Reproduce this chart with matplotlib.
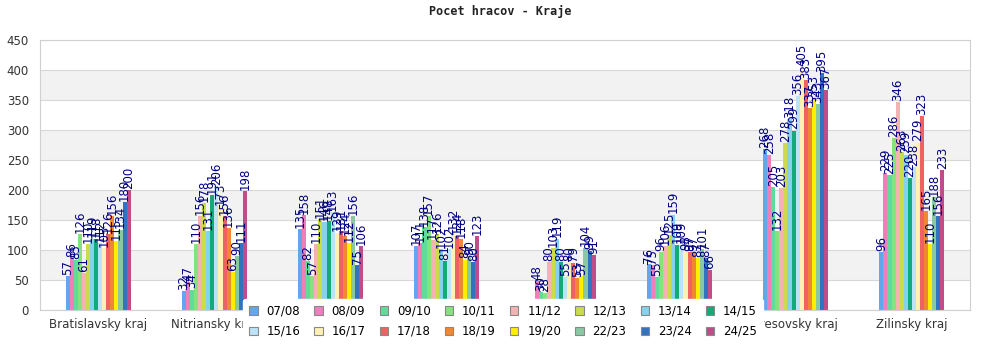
import matplotlib
matplotlib.use("Agg")
import matplotlib.pyplot as plt
import numpy as np
from matplotlib.patches import Patch

seasons = ['07/08', '08/09', '09/10', '10/11', '11/12', '12/13', '13/14', '14/15',
           '15/16', '16/17', '17/18', '18/19', '19/20', '22/23', '23/24', '24/25']
regions = ['Bratislavsky kraj', 'Nitriansky kraj', 'Trnavsky kraj', 'Trenciansky kraj',
           'Banskobystricky kraj', 'Kosicky kraj', 'Presovsky kraj', 'Zilinsky kraj']

# values per region, one per season
bratislavsky = [57, 86, 83, 126, 61, 110, 119, 118, 112, 103, 126, 156, 115, 134, 180, 200]
nitriansky = [32, 47, 34, 110, 156, 178, 131, 191, 206, 173, 156, 136, 63, 90, 111, 198]
trnavsky = [135, 158, 82, 57, 110, 151, 146, 148, 163, 129, 131, 124, 112, 156, 75, 106]
trenciansky = [107, 111, 138, 157, 117, 126, 102, 81, 102, 132, 124, 118, 84, 90, 80, 123]
banskobystricky = [1, 48, 30, 28, 80, 103, 119, 80, 55, 80, 79, 53, 57, 104, 99, 91]
kosicky = [76, 75, 55, 96, 106, 125, 159, 109, 109, 98, 97, 97, 87, 101, 87, 66]
presovsky = [268, 258, 205, 132, 203, 278, 318, 299, 356, 405, 383, 337, 353, 343, 395, 367]
zilinsky = [96, 229, 225, 286, 346, 263, 259, 220, 238, 279, 323, 165, 110, 188, 156, 233]

colors = ['#63a6ee', '#ee7fba', '#5fdc9c', '#84e37c', '#f4b2b2', '#cadc4c', '#84d2ec', '#12aa78',
          '#bce2f8', '#fff0b4', '#f06262', '#ef8834', '#ffee00', '#8ac8a2', '#2f74c0', '#c04c88']

data = np.array([bratislavsky, nitriansky, trnavsky, trenciansky,
                 banskobystricky, kosicky, presovsky, zilinsky])

fig = plt.figure(figsize=(10, 3.5), dpi=100)
ax = fig.add_axes([0.04, 0.114, 0.93, 0.772])

# striped background
for lo in range(50, 450, 100):
    ax.axhspan(lo, lo + 50, color='#f2f2f2', zorder=0, lw=0)

x = np.arange(len(regions))
w = 0.035
for j, s in enumerate(seasons):
    vals = data[:, j]
    pos = x + (j - 7.5) * w
    ax.bar(pos, vals, width=w, color=colors[j], zorder=2, linewidth=0)
    for p, v in zip(pos, vals):
        ax.text(p, v + 2, str(v), rotation=90, ha='center', va='bottom',
                fontsize=8.5, color='#000080', zorder=3)

ax.set_xlim(-0.5, 7.5)
ax.set_ylim(0, 450)
ax.set_yticks(range(0, 451, 50))
ax.set_xticks(x)
ax.set_xticklabels(regions)
ax.yaxis.grid(True, color='#d8d8d8', lw=0.8, zorder=1)
ax.set_axisbelow(True)
ax.tick_params(axis='both', length=0, labelsize=8.5, colors='#333333')
ax.tick_params(axis='y', pad=8)
ax.tick_params(axis='x', pad=6)
for sp in ax.spines.values():
    sp.set_color('#d0d0d0')
    sp.set_linewidth(0.8)

fig.suptitle('Pocet hracov - Kraje', family='DejaVu Sans Mono', fontweight='bold',
             fontsize=8.5, color='#222222', y=0.985)

# legend fills columns first, so interleave to get row order
order = [i + r * 8 for i in range(8) for r in range(2)]
handles = [Patch(facecolor=colors[k], edgecolor='#888888', linewidth=0.8) for k in order]
labels = [seasons[k] for k in order]
leg = fig.legend(handles, labels, ncol=8, loc='upper center', bbox_to_anchor=(0.503, 0.163),
                 fontsize=8.5, frameon=True, handlelength=0.7, handleheight=0.7,
                 handletextpad=0.75, columnspacing=1.2, borderpad=0.5, labelspacing=0.6)
leg.get_frame().set_facecolor('white')
leg.get_frame().set_edgecolor('white')
leg.get_frame().set_alpha(1)

fig.savefig('out.png', dpi=100)
